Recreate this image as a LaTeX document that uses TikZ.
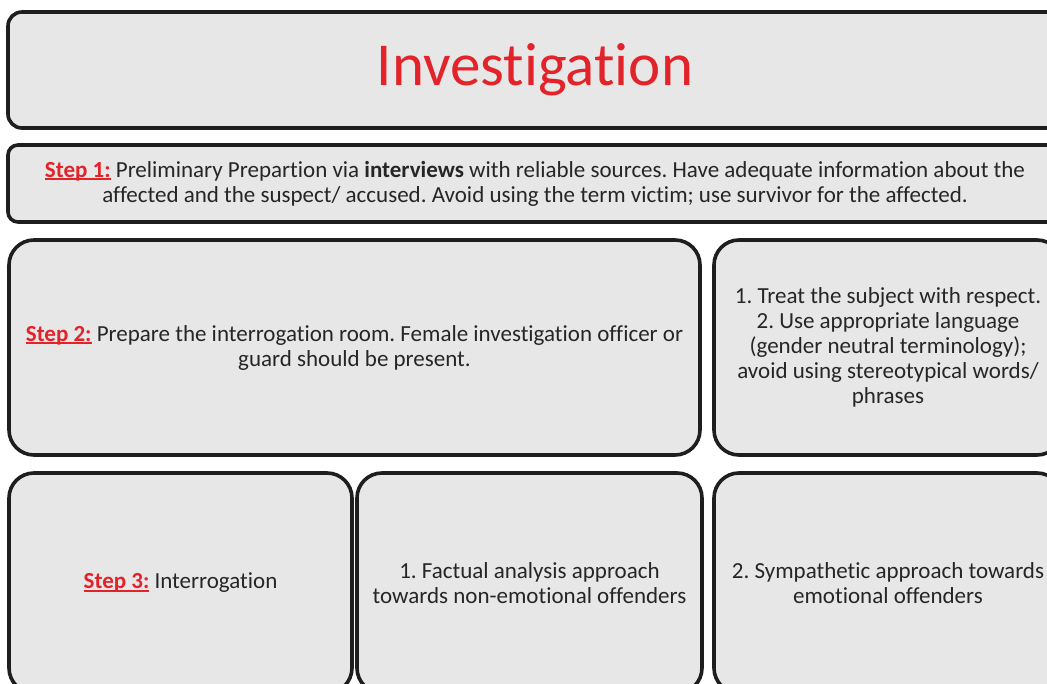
\documentclass[tikz,border=0pt]{standalone}
\usepackage{fontspec}
\setmainfont{Carlito}[RawFeature={-liga}]
\definecolor{stepred}{HTML}{E2232A}
\definecolor{boxfill}{HTML}{E7E7E7}
\definecolor{boxline}{HTML}{1E1E1E}
\definecolor{txt}{HTML}{262626}
\newcommand\ulred[1]{\setbox0\hbox{#1}\rlap{\rule[-2.8pt]{\wd0}{1.8pt}}\box0}
\newcommand\steplab[1]{\textcolor{stepred}{\bfseries\ulred{#1}}}
\frenchspacing
\begin{document}
\begin{tikzpicture}[x=1pt,y=1pt,
  panel/.style={draw=boxline, line width=3.6pt, fill=boxfill, rounded corners=25pt,
    inner sep=0pt, outer sep=0pt, text=txt, align=center,
    font=\fontsize{23}{25}\selectfont},
]
\useasboundingbox (0,0) rectangle (1047,-684);
\clip (0,0) rectangle (1047,-684);
\fill[white] (0,0) rectangle (1047,-684);
% title
\node[panel, rounded corners=14pt, minimum width=1054pt, minimum height=116pt,
  font=\fontsize{61}{64}\selectfont, text=stepred] (title) at (535,-70) {\raisebox{-3pt}{Investigation}};
% step 1
\node[panel, rounded corners=10pt, minimum width=1054pt, minimum height=77pt] (step1) at (535,-183.5)
  {\steplab{Step 1:} Preliminary Prepartion via \textbf{interviews} with reliable sources. Have adequate information about the\\
   affected and the suspect/ accused. Avoid using the term victim; use survivor for the affected.};
% step 2
\node[panel, minimum width=691pt, minimum height=215pt] (step2) at (354.5,-347.5)
  {\steplab{Step 2:} Prepare the interrogation room. Female investigation officer or\\
   guard should be present.};
% tips
\node[panel, minimum width=348pt, minimum height=215pt] (tips) at (888,-347.5)
  {1. Treat the subject with respect.\\
   2. Use appropriate language\\
   (gender neutral terminology);\\
   avoid using stereotypical words/\\
   phrases};
% step 3 row
\node[panel, minimum width=343pt, minimum height=220pt] (step3) at (180.5,-583)
  {\steplab{Step 3:} Interrogation};
\node[panel, minimum width=345pt, minimum height=220pt] (factual) at (529.5,-583)
  {1. Factual analysis approach\\
   towards non-emotional offenders};
\node[panel, minimum width=348pt, minimum height=220pt] (sympa) at (888,-583)
  {2. Sympathetic approach towards\\
   emotional offenders};
\end{tikzpicture}
\end{document}
